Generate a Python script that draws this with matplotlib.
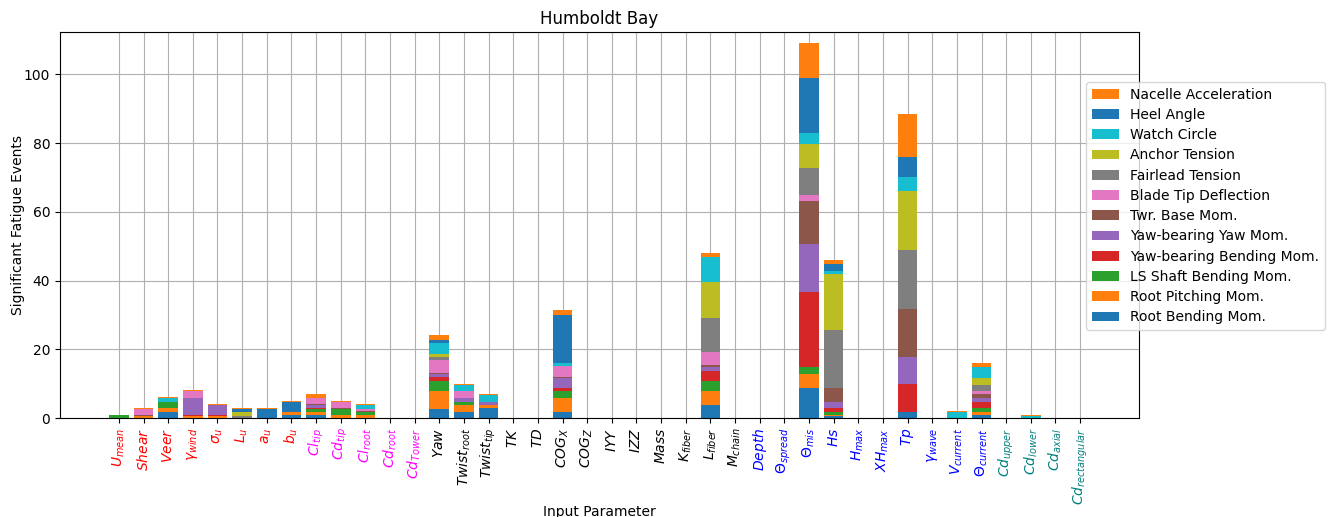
import matplotlib
matplotlib.use('Agg')
import matplotlib.pyplot as plt
import numpy as np

params = [r'$U_{mean}$', r'$Shear$', r'$Veer$', r'$\gamma_{wind}$', r'$\sigma_u$',
          r'$L_u$', r'$a_u$', r'$b_u$', r'$Cl_{tip}$', r'$Cd_{tip}$', r'$Cl_{root}$',
          r'$Cd_{root}$', r'$Cd_{Tower}$', r'$Yaw$', r'$Twist_{root}$', r'$Twist_{tip}$',
          r'$TK$', r'$TD$', r'$COG_X$', r'$COG_Z$', r'$IYY$', r'$IZZ$', r'$Mass$',
          r'$K_{fiber}$', r'$L_{fiber}$', r'$M_{chain}$', r'$Depth$', r'$\Theta_{spread}$',
          r'$\Theta_{mis}$', r'$Hs$', r'$H_{max}$', r'$XH_{max}$', r'$Tp$', r'$\gamma_{wave}$',
          r'$V_{current}$', r'$\Theta_{current}$', r'$Cd_{upper}$', r'$Cd_{lower}$',
          r'$Cd_{axial}$', r'$Cd_{rectangular}$']
label_colors = ['red'] * 8 + ['magenta'] * 5 + ['black'] * 13 + ['blue'] * 10 + ['teal'] * 4

#                 Um   Sh    Ve    gw   su   Lu   au   bu   Clt  Cdt  Clr Cdr CdT Yaw  Twr  Twt TK TD COGx COGz IYY IZZ Ms Kf  Lf  Mc Dp Ts  Tmis  Hs  Hm XHm  Tp  gwv Vc   Tc  Cdu Cdl Cda Cdr
root_bend  = [0,   0,    1.75, 0,   0,   0,   2.6, 0.9, 0.9, 0,   0,  0, 0, 2.6, 1.75, 2.9, 0, 0, 1.75, 0, 0, 0, 0, 0, 3.8, 0, 0, 0, 8.75, 0.6, 0, 0, 1.75, 0, 0,    0.9, 0, 0,   0, 0]
root_pitch = [0,   0.6,  1.15, 0.6, 0.6, 0,   0,   0.9, 0.9, 0.9, 0.9, 0, 0, 5.25, 2.0, 0.9, 0, 0, 4.1, 0, 0, 0, 0, 0, 4.1, 0, 0, 0, 4.1, 0.3, 0, 0, 0, 0, 0,      0.9, 0, 0,   0, 0]
ls_shaft   = [0.75, 0,   1.75, 0,   0,   0,   0,   0,   0.9, 1.75, 0.9, 0, 0, 2.9, 0.9, 0,  0, 0, 2.0, 0, 0, 0, 0, 0, 2.9, 0, 0, 0, 2.0, 0.9, 0, 0, 0, 0, 0,      1.15, 0, 0,  0, 0]
yaw_bend   = [0,   0,    0,    0.3, 0.3, 0,   0,   0,   0.3, 0,   0,   0, 0, 1.15, 0,   0,  0, 0, 0.9, 0, 0, 0, 0, 0, 2.9, 0, 0, 0, 21.8, 1.15, 0, 0, 8.15, 0, 0,   1.75, 0, 0,  0, 0]
yaw_yaw    = [0,   0,    0,    5.0, 2.9, 0,   0,   0,   0.9, 0,   0,   0, 0, 0.9, 1.15, 0.9, 0, 0, 2.9, 0, 0, 0, 0, 0, 1.15, 0, 0, 0, 14.0, 1.75, 0, 0, 7.9, 0, 0,  1.15, 0, 0,  0, 0]
twr_base   = [0,   0.2,  0,    0,   0,   0,   0,   0,   0.2, 0.3, 0.3, 0, 0, 0.2, 0,   0,  0, 0, 0.2, 0, 0, 0, 0, 0, 0.6, 0, 0, 0, 12.5, 4.1, 0, 0, 14.0, 0, 0,  1.15, 0, 0,  0, 0]
blade_tip  = [0,   1.8,  0,    2.0, 0,   0,   0,   0,   1.8, 1.75, 0.6, 0, 0, 3.9, 2.0, 0,  0, 0, 3.2, 0, 0, 0, 0, 0, 3.8, 0, 0, 0, 1.75, 0, 0, 0, 0, 0, 0,      0.9, 0, 0,   0, 0]
fairlead   = [0,   0,    0,    0,   0,   0.6, 0,   0,   0,   0,   0,   0, 0, 0.9, 0,   0,  0, 0, 0,   0, 0, 0, 0, 0, 9.9, 0, 0, 0, 7.9, 16.9, 0, 0, 17.2, 0, 0,  1.75, 0, 0,  0, 0]
anchor     = [0,   0,    0,    0,   0,   1.15, 0,  0,   0,   0,   0,   0, 0, 0.9, 0,   0,  0, 0, 0,   0, 0, 0, 0, 0, 10.4, 0, 0, 0, 7.0, 16.3, 0, 0, 16.9, 0, 0, 2.0, 0, 0,   0, 0]
watch      = [0,   0,    1.15, 0,   0,   0,   0,   0,   0,   0,   1.15, 0, 0, 3.2, 1.75, 2.0, 0, 0, 0.9, 0, 0, 0, 0, 0, 7.3, 0, 0, 0, 3.2, 0.9, 0, 0, 4.1, 0, 1.75, 3.2, 0, 0.6, 0, 0]
heel       = [0,   0,    0,    0,   0,   0.9, 0,   2.9, 0,   0,   0,   0, 0, 0.9, 0,   0,  0, 0, 14.0, 0, 0, 0, 0, 0, 0, 0, 0, 0, 16.0, 2.0, 0, 0, 5.8, 0, 0,   0, 0, 0,     0, 0]
nacelle    = [0.25, 0.3, 0.3,  0.3, 0.3, 0.3, 0.3, 0.3, 1.15, 0.3, 0.3, 0, 0, 1.45, 0.3, 0.3, 0, 0, 1.45, 0, 0, 0, 0, 0, 1.15, 0, 0, 0, 10.2, 1.15, 0, 0, 12.5, 0, 0.3, 1.15, 0, 0.3, 0, 0]

series = [root_bend, root_pitch, ls_shaft, yaw_bend, yaw_yaw, twr_base,
          blade_tip, fairlead, anchor, watch, heel, nacelle]
names = ['Root Bending Mom.', 'Root Pitching Mom.', 'LS Shaft Bending Mom.',
         'Yaw-bearing Bending Mom.', 'Yaw-bearing Yaw Mom.', 'Twr. Base Mom.',
         'Blade Tip Deflection', 'Fairlead Tension', 'Anchor Tension', 'Watch Circle',
         'Heel Angle', 'Nacelle Acceleration']
colors = ['tab:blue', 'tab:orange', 'tab:green', 'tab:red', 'tab:purple', 'tab:brown',
          'tab:pink', 'tab:gray', 'tab:olive', 'tab:cyan', 'tab:blue', 'tab:orange']

fig = plt.figure(figsize=(13.32, 5.17), dpi=100)
ax = fig.add_axes([60 / 1332, 1 - 418 / 517, (1139 - 60) / 1332, (418 - 32) / 517])

x = np.arange(len(params))
bottom = np.zeros(len(params))
for vals, name, col in zip(series, names, colors):
    vals = np.array(vals, dtype=float)
    ax.bar(x, vals, 0.8, bottom=bottom, color=col, label=name)
    bottom += vals

ax.set_ylim(0, 112.3)
ax.set_axisbelow(True)
ax.grid(True)
ax.set_xticks(x)
ax.set_xticklabels(params, rotation=90)
for lbl, col in zip(ax.get_xticklabels(), label_colors):
    lbl.set_color(col)
ax.set_title('Humboldt Bay')
ax.set_xlabel('Input Parameter', labelpad=0)
ax.set_ylabel('Significant Fatigue Events', labelpad=-1)

# legend sits outside, overlapping the right edge of the axes
h, l = ax.get_legend_handles_labels()
fig.legend(h[::-1], l[::-1], loc='upper left', bbox_to_anchor=(1086 / 1332, 1 - 82 / 517),
           borderaxespad=0, borderpad=0.4, labelspacing=0.45)

fig.savefig('out.png', dpi=100)
